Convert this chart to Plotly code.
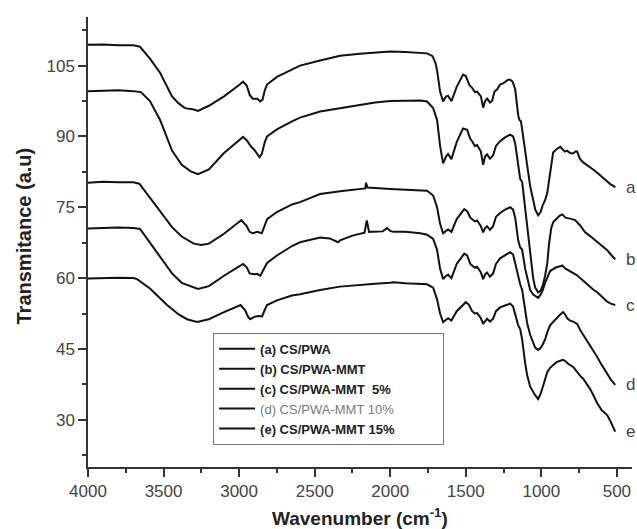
import plotly.graph_objects as go

# ---- data (wavenumber in cm-1, transmittance a.u.) ----
wn_a = [4000, 3900, 3800, 3700, 3656, 3590, 3523, 3444, 3400, 3358, 3300, 3272, 3200, 3100, 3000, 2974, 2950, 2930,
        2910, 2880, 2860, 2845, 2830, 2815, 2750, 2650, 2597, 2464, 2332, 2200, 2100, 2000, 1900, 1800, 1756, 1720,
        1700, 1690, 1670, 1650, 1630, 1617, 1595, 1560, 1518, 1500, 1475, 1458, 1440, 1425, 1400, 1385, 1372, 1359,
        1340, 1325, 1310, 1292, 1273, 1250, 1220, 1206, 1190, 1173, 1160, 1153, 1145, 1135, 1127, 1107, 1094, 1074,
        1054, 1040, 1021, 1005, 990, 975, 961, 950, 935, 922, 900, 875, 860, 845, 829, 810, 789, 775, 763, 745, 723,
        700, 677, 657, 630, 600, 580, 564, 540, 520, 511]
tr_a = [109.4, 109.5, 109.3, 109.3, 109.0, 106.5, 103.5, 98.5, 97.0, 96.0, 95.7, 95.4, 96.5, 98.5, 100.9, 101.6, 100.8,
        98.8, 98.0, 98.0, 97.4, 97.8, 99.8, 101.0, 102.6, 104.2, 105.0, 106.1, 107.1, 107.5, 107.8, 108.0, 107.9,
        107.7, 107.6, 107.0, 105.5, 104.0, 99.5, 97.4, 98.5, 98.6, 97.5, 100.5, 103.1, 102.8, 100.8, 100.3, 99.4,
        99.5, 98.5, 96.1, 97.5, 98.0, 97.2, 97.6, 99.5, 100.0, 101.0, 101.3, 102.0, 102.0, 101.6, 100.0, 96.0, 94.5,
        93.5, 93.2, 91.5, 86.5, 84.0, 79.5, 76.5, 74.5, 73.3, 74.0, 75.5, 76.5, 78.0, 80.5, 84.5, 86.6, 87.3, 87.8,
        87.3, 86.8, 87.0, 86.5, 86.4, 86.8, 86.8, 85.3, 84.5, 84.0, 83.6, 83.0, 82.3, 81.4, 80.8, 80.5, 79.8, 79.5,
        79.2]

wn_b = [4000, 3900, 3800, 3700, 3650, 3590, 3523, 3444, 3380, 3320, 3272, 3200, 3100, 3000, 2974, 2950, 2920, 2900,
        2880, 2865, 2850, 2830, 2815, 2750, 2650, 2597, 2464, 2332, 2200, 2100, 2000, 1900, 1800, 1756, 1716, 1690,
        1670, 1650, 1630, 1617, 1595, 1560, 1518, 1491, 1470, 1458, 1440, 1425, 1400, 1385, 1372, 1359, 1340, 1319,
        1300, 1273, 1240, 1206, 1187, 1173, 1153, 1140, 1127, 1107, 1094, 1074, 1054, 1041, 1021, 1005, 990, 975,
        961, 950, 935, 922, 900, 880, 862, 840, 810, 776, 745, 710, 677, 650, 630, 600, 564, 540, 511]
tr_b = [99.6, 99.7, 99.8, 99.6, 99.4, 97.5, 93.5, 87.0, 84.0, 82.6, 82.0, 83.0, 86.5, 89.2, 89.9, 89.2, 87.8, 87.2,
        86.2, 85.6, 86.3, 88.8, 90.0, 91.5, 93.2, 94.0, 95.3, 96.0, 96.6, 97.2, 97.5, 97.6, 97.6, 97.4, 96.0, 93.5,
        88.0, 84.3, 85.8, 86.3, 85.2, 88.8, 91.7, 91.4, 89.5, 89.0, 88.0, 88.2, 86.8, 84.0, 85.8, 86.2, 85.3, 86.0,
        88.0, 89.0, 89.8, 90.4, 90.0, 88.5, 83.5, 81.0, 80.4, 75.0, 71.5, 65.5, 60.0, 58.0, 57.0, 57.3, 58.5, 60.5,
        63.0, 67.0, 70.5, 71.8, 72.6, 73.2, 73.5, 72.8, 72.6, 72.3, 71.2, 69.7, 68.9, 68.2, 67.6, 66.8, 65.9, 65.0,
        64.0]

wn_c = [4000, 3900, 3800, 3700, 3660, 3590, 3523, 3444, 3380, 3300, 3250, 3200, 3100, 3000, 2985, 2950, 2930, 2910,
        2880, 2850, 2830, 2815, 2750, 2650, 2597, 2464, 2332, 2200, 2165, 2160, 2150, 2000, 1900, 1800, 1756, 1716,
        1690, 1670, 1650, 1630, 1617, 1595, 1560, 1510, 1491, 1470, 1440, 1425, 1400, 1385, 1372, 1359, 1340, 1319,
        1300, 1273, 1240, 1206, 1187, 1173, 1153, 1140, 1127, 1107, 1094, 1074, 1054, 1041, 1021, 1005, 990, 975,
        961, 942, 922, 900, 875, 862, 840, 829, 810, 789, 763, 743, 723, 697, 677, 657, 630, 611, 580, 564, 540, 511]
tr_c = [80.2, 80.4, 80.3, 80.3, 80.0, 77.0, 74.0, 70.8, 68.8, 67.3, 67.0, 67.3, 69.4, 71.8, 72.3, 71.0, 69.8, 69.5,
        69.8, 69.5, 71.5, 72.5, 74.0, 75.6, 76.1, 77.8, 78.4, 79.0, 79.0, 80.2, 79.2, 78.9, 78.8, 78.7, 78.5, 77.5,
        75.0, 71.5, 69.5, 70.0, 70.3, 69.8, 72.5, 74.6, 74.2, 72.8, 72.0, 72.2, 71.0, 69.7, 70.6, 71.0, 70.2, 71.0,
        73.0, 73.8, 74.5, 75.0, 74.5, 72.8, 68.0, 66.5, 66.0, 62.0, 60.0, 57.5, 56.5, 56.2, 55.8, 56.5, 57.5, 59.0,
        60.0, 61.5, 61.9, 62.3, 62.5, 62.7, 62.0, 61.8, 61.5, 61.0, 60.6, 60.0, 59.4, 58.6, 58.1, 57.6, 57.0, 56.4,
        55.5, 55.0, 54.6, 54.3]

wn_d = [4000, 3900, 3800, 3700, 3656, 3590, 3523, 3444, 3380, 3300, 3272, 3200, 3100, 3000, 2974, 2950, 2930, 2900,
        2880, 2860, 2840, 2815, 2750, 2650, 2597, 2464, 2400, 2345, 2332, 2250, 2170, 2155, 2140, 2050, 2020, 2000,
        1981, 1900, 1800, 1756, 1716, 1690, 1670, 1650, 1630, 1617, 1595, 1560, 1510, 1491, 1470, 1440, 1425, 1400,
        1385, 1372, 1359, 1340, 1319, 1300, 1273, 1240, 1206, 1187, 1173, 1153, 1140, 1127, 1107, 1094, 1074, 1054,
        1041, 1021, 1005, 990, 975, 961, 942, 922, 900, 875, 856, 840, 829, 810, 789, 763, 743, 723, 697, 677, 657,
        630, 611, 580, 564, 540, 511]
tr_d = [70.5, 70.6, 70.7, 70.6, 70.4, 67.5, 64.5, 61.0, 59.0, 58.0, 57.7, 58.3, 60.5, 62.5, 63.0, 62.3, 61.0, 60.8,
        60.9, 60.5, 61.8, 63.2, 64.8, 66.8, 67.6, 68.6, 68.4, 67.6, 68.0, 69.0, 69.6, 72.2, 69.8, 69.9, 70.6, 70.0,
        69.8, 69.8, 69.5, 69.2, 68.3, 66.0, 62.0, 59.8, 60.5, 60.7, 60.0, 63.0, 65.2, 64.8, 63.0, 62.2, 62.4, 61.2,
        59.8, 60.8, 61.2, 60.3, 61.0, 63.0, 64.2, 64.8, 65.5, 65.0, 63.0, 60.0, 58.7, 57.5, 53.0, 50.5, 48.0, 46.3,
        45.3, 44.8, 45.2, 46.0, 47.0, 48.5, 50.0, 50.7, 51.5, 52.3, 52.8, 52.2, 51.5, 51.0, 50.8, 50.3, 49.0, 48.0,
        46.9, 45.8, 44.8, 43.3, 42.2, 40.5, 39.8, 38.5, 37.4]

wn_e = [4000, 3900, 3800, 3700, 3675, 3590, 3523, 3477, 3400, 3345, 3278, 3200, 3100, 3000, 2990, 2960, 2940, 2927,
        2900, 2870, 2848, 2830, 2815, 2750, 2650, 2597, 2464, 2332, 2200, 2100, 2000, 1981, 1900, 1800, 1756, 1716,
        1690, 1670, 1650, 1630, 1617, 1595, 1560, 1500, 1480, 1458, 1440, 1425, 1400, 1385, 1372, 1359, 1340, 1319,
        1300, 1273, 1240, 1206, 1187, 1173, 1153, 1140, 1127, 1107, 1094, 1074, 1054, 1041, 1021, 1005, 990, 975,
        961, 942, 922, 900, 875, 856, 840, 820, 789, 763, 743, 723, 697, 677, 657, 630, 600, 564, 540, 511]
tr_e = [59.9, 60.0, 60.1, 60.0, 59.8, 57.8, 55.8, 54.3, 52.3, 51.3, 50.7, 51.3, 52.8, 54.2, 54.3, 53.2, 51.8, 51.3,
        51.8, 52.0, 51.9, 53.3, 54.3, 55.3, 56.3, 56.6, 57.5, 58.2, 58.6, 58.8, 59.0, 59.1, 58.9, 58.8, 58.7, 58.0,
        55.5, 52.5, 50.7, 51.2, 51.5, 51.0, 53.0, 54.9, 54.4, 53.0, 52.5, 52.6, 51.5, 50.3, 51.0, 51.4, 50.8, 51.4,
        53.0, 53.8, 54.2, 54.6, 54.0, 52.3, 50.0, 49.2, 47.0, 42.0, 39.5, 37.0, 35.9, 35.2, 34.4, 35.5, 37.0, 38.5,
        40.1, 41.0, 41.6, 42.2, 42.5, 42.7, 42.4, 41.8, 41.2, 40.0, 39.3, 38.7, 37.5, 36.5, 35.3, 33.5, 32.0, 31.0,
        29.5, 27.5]

series_names = ["<b>(a) CS/PWA</b>",
                "<b>(b) CS/PWA-MMT</b>",
                "<b>(c) CS/PWA-MMT\u00a0\u00a05%</b>",
                "<span style='color:#7a7a7a'>(d) CS/PWA-MMT 10%</span>",
                "<b>(e) CS/PWA-MMT 15%</b>" + "\u00a0" * 12]
end_labels = ["a", "b", "c", "d", "e"]
x_data = [wn_a, wn_b, wn_c, wn_d, wn_e]
y_data = [tr_a, tr_b, tr_c, tr_d, tr_e]

FONT = "Arial, 'Liberation Sans', sans-serif"

fig = go.Figure()
for name, xs, ys in zip(series_names, x_data, y_data):
    fig.add_trace(go.Scatter(x=xs, y=ys, mode="lines", name=name,
                             line=dict(color="#111111", width=2)))

for lab, xs, ys in zip(end_labels, x_data, y_data):
    fig.add_annotation(x=455, y=ys[-1], xref="x", yref="y", text=lab, showarrow=False,
                       xanchor="left", yanchor="middle",
                       font=dict(family=FONT, size=17, color="#444444"))

fig.add_annotation(text="<b>Transmitance (a.u)</b>", textangle=-90, xref="paper", yref="paper",
                   x=-0.118, y=0.514, xanchor="center", yanchor="middle", showarrow=False,
                   font=dict(family=FONT, size=20, color="#222222"))
fig.add_annotation(text="<b>Wavenumber (cm<sup>-1</sup>)</b>", xref="paper", yref="paper",
                   x=0.5, y=-0.112, xanchor="center", yanchor="middle", showarrow=False,
                   font=dict(family=FONT, size=19, color="#222222"))

fig.update_layout(
    width=637, height=529,
    margin=dict(l=88, r=5, t=17, b=62),
    paper_bgcolor="white", plot_bgcolor="white",
    font=dict(family=FONT, color="#444444"),
    showlegend=True,
    legend=dict(x=0.23, y=0.298, xanchor="left", yanchor="top",
                bgcolor="white", bordercolor="#777777", borderwidth=1,
                font=dict(family=FONT, size=13, color="#222222"),
                itemwidth=36, tracegroupgap=0),
)
fig.update_xaxes(range=[4000, 400], tickvals=[4000, 3500, 3000, 2500, 2000, 1500, 1000, 500],
                 ticks="outside", ticklen=8, tickwidth=1.5, tickcolor="#333333",
                 showline=True, linecolor="#333333", linewidth=1.5, showgrid=False, zeroline=False,
                 tickfont=dict(family=FONT, size=17, color="#444444"),
                 minor=dict(dtick=250, tick0=0, ticks="outside", ticklen=4, tickcolor="#333333", showgrid=False))
fig.update_yaxes(range=[20, 115.3], tickvals=[30, 45, 60, 75, 90, 105],
                 ticks="outside", ticklen=8, tickwidth=1.5, tickcolor="#333333",
                 showline=True, linecolor="#333333", linewidth=1.5, showgrid=False, zeroline=False,
                 tickfont=dict(family=FONT, size=17, color="#444444"),
                 minor=dict(dtick=7.5, tick0=0, ticks="outside", ticklen=4, tickcolor="#333333", showgrid=False))

fig.write_html("out.html", config={"displayModeBar": False},
               post_script="document.body.style.margin='0';document.body.style.overflow='hidden';")
